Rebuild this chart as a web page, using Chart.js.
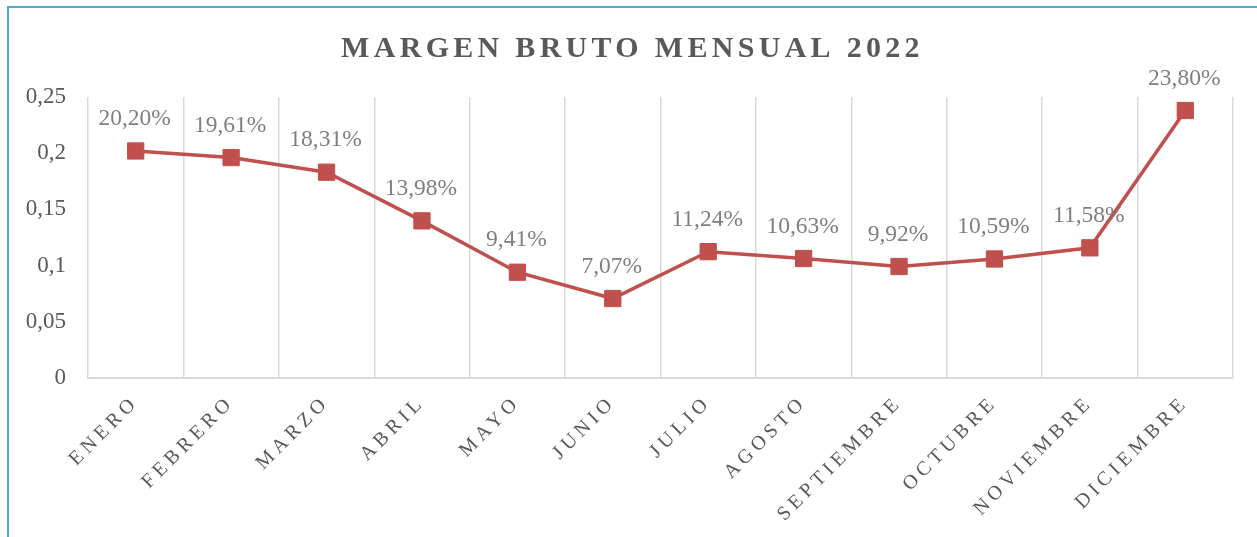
<!DOCTYPE html>
<html>
<head>
<meta charset="utf-8">
<script src="https://cdn.jsdelivr.net/npm/chart.js@4"></script>
<style>
  html, body { margin: 0; padding: 0; background: #fff; }
  #wrap { position: relative; width: 1257px; height: 537px; }
  #frame {
    position: absolute; left: 7px; top: 6px; width: 1300px; height: 600px;
    border-left: 2px solid #4FADC8; border-top: 2px solid #4FADC8;
    pointer-events: none;
  }
</style>
</head>
<body>
<div id="wrap">
  <canvas id="chart"></canvas>
  <div id="frame"></div>
</div>
<script>
// datos del gráfico
const meses = ['ENERO', 'FEBRERO', 'MARZO', 'ABRIL', 'MAYO', 'JUNIO', 'JULIO',
  'AGOSTO', 'SEPTIEMBRE', 'OCTUBRE', 'NOVIEMBRE', 'DICIEMBRE'];
const margen = [0.2020, 0.1961, 0.1831, 0.1398, 0.0941, 0.0707, 0.1124,
  0.1063, 0.0992, 0.1059, 0.1158, 0.2380];
const yTicks = [0, 0.05, 0.1, 0.15, 0.2, 0.25];

const gris = '#595959';
const rojo = '#C0504D';

Chart.defaults.font.family = "'Liberation Serif', 'Times New Roman', serif";

// separación de letras para el título y las etiquetas del eje X
const espaciado = {
  id: 'espaciado',
  beforeDraw(chart) {
    const x = chart.scales.x;
    if (x && !x._spaced) {
      const orig = x.drawLabels;
      x.drawLabels = function (area) {
        this.ctx.save();
        this.ctx.letterSpacing = '4.5px';
        orig.call(this, area);
        this.ctx.restore();
      };
      x._spaced = true;
    }
    const t = chart.titleBlock;
    if (t && !t._spaced) {
      const origT = t.draw;
      t.draw = function (area) {
        this.ctx.save();
        this.ctx.letterSpacing = '4.3px';
        this.ctx.translate(16, 2);
        origT.call(this, area);
        this.ctx.restore();
      };
      t._spaced = true;
    }
  }
};

// etiquetas de datos encima de cada punto
const etiquetas = {
  id: 'etiquetas',
  afterDatasetsDraw(chart) {
    const ctx = chart.ctx;
    const meta = chart.getDatasetMeta(0);
    ctx.save();
    ctx.font = "23.5px 'Liberation Serif', serif";
    ctx.fillStyle = '#7F7F7F';
    ctx.textAlign = 'center';
    ctx.textBaseline = 'middle';
    meta.data.forEach((pt, i) => {
      const txt = (margen[i] * 100).toFixed(2).replace('.', ',') + '%';
      ctx.fillText(txt, pt.x - 1, pt.y - 32);
    });
    ctx.restore();
  }
};

new Chart(document.getElementById('chart'), {
  type: 'line',
  data: {
    labels: meses,
    datasets: [{
      data: margen,
      borderColor: rojo,
      backgroundColor: rojo,
      borderWidth: 3.5,
      pointStyle: 'rect',
      pointRadius: 11.5,
      pointHoverRadius: 11.5,
      pointBorderWidth: 1,
      pointBackgroundColor: rojo,
      pointBorderColor: rojo,
      tension: 0,
      clip: false
    }]
  },
  options: {
    responsive: true,
    maintainAspectRatio: false,
    animation: false,
    layout: { padding: { left: 0, right: 24, top: 0, bottom: 0 } },
    plugins: {
      legend: { display: false },
      tooltip: { enabled: false },
      title: {
        display: true,
        text: 'MARGEN BRUTO MENSUAL 2022',
        color: gris,
        font: { size: 30, weight: 'bold', lineHeight: 1.2 },
        padding: { top: 29.5, bottom: 31.5 }
      }
    },
    scales: {
      x: {
        offset: true,
        grid: { display: true, offset: true, color: '#D9D9D9', lineWidth: 1.5, drawTicks: false },
        border: { display: true, color: '#D9D9D9', width: 2 },
        ticks: {
          autoSkip: false,
          minRotation: 45,
          maxRotation: 45,
          padding: 13,
          color: gris,
          font: { size: 20 }
        },
        afterFit(s) { s.height = 159; }
      },
      y: {
        min: 0,
        max: 0.25,
        grid: { display: false, drawTicks: false },
        border: { display: false },
        afterBuildTicks(s) { s.ticks = yTicks.map(v => ({ value: v })); },
        ticks: {
          padding: 22,
          color: gris,
          font: { size: 23 },
          callback: v => String(+v.toFixed(2)).replace('.', ',')
        },
        afterFit(s) { s.width = 88; }
      }
    }
  },
  plugins: [espaciado, etiquetas]
});
</script>
</body>
</html>
